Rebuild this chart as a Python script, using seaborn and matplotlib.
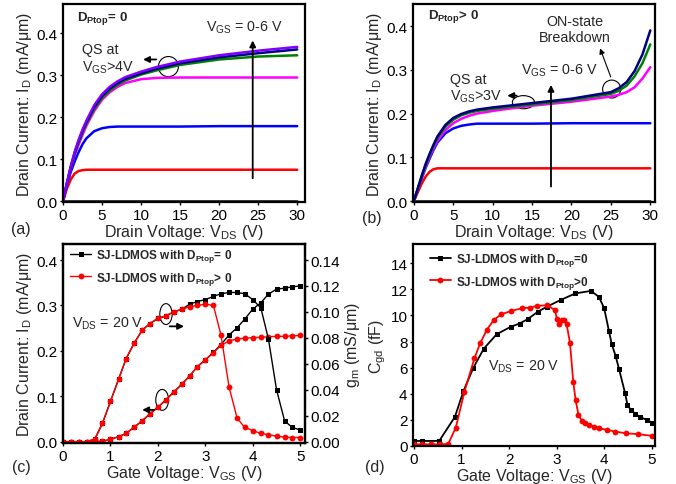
"""
plot.py - SJ-LDMOS output / transfer / Cgd curves (4 panels)
"""

import pandas as pd
import matplotlib
matplotlib.use("Agg")
import matplotlib.pyplot as plt
from matplotlib.patches import Ellipse
from matplotlib.ticker import StrMethodFormatter
import seaborn as sns

# ---------------------------------------------------------------------------
# Data
# ---------------------------------------------------------------------------

VGS_STEPS = [0, 1, 2, 3, 4, 5, 6]
VGS_COLORS = {0: "black", 1: "#ff0000", 2: "#0000ff", 3: "#ff00ff",
              4: "#008000", 5: "#000080", 6: "#8000ff"}

# (a) D_Ptop = 0
VDS_A = [0, 0.5, 1, 1.5, 2, 2.5, 3, 4, 5, 6, 7, 8, 10, 12, 15, 20, 25, 30]
ID_A_VGS0 = [0] * 18
ID_A_VGS1 = [0, 0.030, 0.052, 0.066, 0.072, 0.074, 0.075, 0.075, 0.075, 0.075,
             0.075, 0.075, 0.075, 0.075, 0.075, 0.075, 0.075, 0.075]
ID_A_VGS2 = [0, 0.038, 0.070, 0.095, 0.117, 0.136, 0.150, 0.167, 0.174, 0.177,
             0.178, 0.178, 0.178, 0.178, 0.178, 0.179, 0.179, 0.179]
ID_A_VGS3 = [0, 0.040, 0.078, 0.110, 0.135, 0.158, 0.180, 0.215, 0.242, 0.260,
             0.273, 0.282, 0.291, 0.294, 0.295, 0.295, 0.295, 0.295]
ID_A_VGS4 = [0, 0.042, 0.080, 0.113, 0.140, 0.164, 0.185, 0.220, 0.246, 0.264,
             0.278, 0.288, 0.302, 0.312, 0.325, 0.338, 0.345, 0.348]
ID_A_VGS5 = [0, 0.043, 0.082, 0.116, 0.144, 0.168, 0.189, 0.225, 0.251, 0.269,
             0.282, 0.292, 0.305, 0.316, 0.329, 0.343, 0.353, 0.362]
ID_A_VGS6 = [0, 0.044, 0.084, 0.118, 0.146, 0.171, 0.192, 0.229, 0.255, 0.273,
             0.286, 0.296, 0.309, 0.320, 0.333, 0.348, 0.359, 0.368]

# (b) D_Ptop > 0
VDS_B = [0, 0.5, 1, 1.5, 2, 2.5, 3, 4, 5, 6, 7, 8, 10, 12, 15, 20, 25,
         26, 27, 28, 29, 30]
ID_B_VGS0 = [0] * 22
ID_B_VGS1 = [0, 0.020, 0.040, 0.056, 0.067, 0.073, 0.075, 0.075, 0.075, 0.075,
             0.075, 0.075, 0.075, 0.075, 0.075, 0.075, 0.075, 0.075, 0.075,
             0.075, 0.075, 0.075]
ID_B_VGS2 = [0, 0.026, 0.052, 0.076, 0.097, 0.117, 0.134, 0.155, 0.166, 0.172,
             0.175, 0.177, 0.177, 0.177, 0.177, 0.178, 0.178, 0.178, 0.178,
             0.178, 0.178, 0.178]
ID_B_VGS3 = [0, 0.027, 0.054, 0.079, 0.101, 0.121, 0.138, 0.162, 0.178, 0.188,
             0.195, 0.200, 0.206, 0.211, 0.218, 0.227, 0.239, 0.243, 0.249,
             0.260, 0.280, 0.306]
ID_B_VGS4 = [0, 0.028, 0.056, 0.082, 0.105, 0.126, 0.144, 0.170, 0.186, 0.196,
             0.202, 0.206, 0.211, 0.215, 0.221, 0.231, 0.245, 0.252, 0.264,
             0.285, 0.315, 0.358]
ID_B_VGS5 = [0, 0.029, 0.058, 0.085, 0.108, 0.129, 0.148, 0.174, 0.190, 0.199,
             0.205, 0.209, 0.214, 0.218, 0.224, 0.234, 0.249, 0.258, 0.272,
             0.297, 0.335, 0.390]

# (c) transfer at V_DS = 20 V: I_D (left axis) and g_m (right axis)
VGS_C = [0, 0.17, 0.33, 0.5, 0.67, 0.83, 1.0, 1.17, 1.33, 1.5, 1.67, 1.83,
         2.0, 2.17, 2.33, 2.5, 2.67, 2.83, 3.0, 3.17, 3.33, 3.5, 3.67, 3.83,
         4.0, 4.17, 4.33, 4.5, 4.67, 4.83, 5.0]
ID_C_ZERO = [0, 0, 0, 0, 0, 0.001, 0.005, 0.011, 0.018, 0.032, 0.046, 0.061,
             0.076, 0.092, 0.109, 0.126, 0.145, 0.165, 0.180, 0.197, 0.214,
             0.235, 0.251, 0.270, 0.292, 0.306, 0.325, 0.336, 0.338, 0.341,
             0.343]
ID_C_POS = [0, 0, 0, 0, 0, 0.001, 0.005, 0.011, 0.018, 0.032, 0.046, 0.061,
            0.076, 0.092, 0.109, 0.126, 0.145, 0.165, 0.180, 0.196, 0.212,
            0.222, 0.226, 0.228, 0.229, 0.230, 0.231, 0.232, 0.232, 0.233,
            0.234]
GM_C_ZERO = [0, 0, 0, 0, 0.002, 0.014, 0.031, 0.048, 0.064, 0.076, 0.086,
             0.091, 0.095, 0.097, 0.100, 0.102, 0.106, 0.108, 0.1095, 0.112,
             0.114, 0.115, 0.115, 0.114, 0.1095, 0.103, 0.079, 0.040, 0.016,
             0.011, 0.009]
GM_C_POS = [0, 0, 0, 0, 0.002, 0.014, 0.031, 0.048, 0.064, 0.076, 0.086,
            0.091, 0.095, 0.097, 0.100, 0.102, 0.104, 0.105, 0.106, 0.105,
            0.082, 0.042, 0.018, 0.011, 0.0085, 0.0063, 0.0053, 0.0042,
            0.0035, 0.0032, 0.0032]

# (d) C_gd at V_DS = 20 V
VGS_D_ZERO = [0.0, 0.16, 0.53, 0.86, 1.04, 1.25, 1.47, 1.74, 2.03, 2.22,
              2.39, 2.6, 2.8, 3.09, 3.39, 3.72, 3.89, 4.0, 4.1, 4.16,
              4.24, 4.31, 4.44, 4.49, 4.56, 4.65, 4.75, 4.9, 5.0]
CGD_D_ZERO = [0.38, 0.38, 0.38, 2.22, 4.2, 6.0, 7.46, 8.56, 9.12, 9.38,
              9.71, 10.27, 10.68, 11.19, 11.68, 11.88, 11.42, 10.55, 8.81, 7.79,
              6.9, 5.93, 4.04, 3.14, 2.76, 2.48, 2.22, 1.99, 1.79]
VGS_D_POS = [0.0, 0.17, 0.36, 0.55, 0.72, 0.88, 1.06, 1.27, 1.39, 1.53,
             1.68, 1.84, 2.05, 2.27, 2.43, 2.59, 2.8, 2.96, 3.01, 3.06,
             3.11, 3.16, 3.21, 3.28, 3.35, 3.4, 3.46, 3.53, 3.6, 3.68,
             3.79, 3.9, 4.05, 4.23, 4.45, 4.72, 5.0]
CGD_D_POS = [0.12, 0.12, 0.12, 0.12, 0.15, 1.41, 4.14, 6.7, 7.85, 8.89,
             9.66, 10.09, 10.35, 10.55, 10.6, 10.73, 10.78, 10.42, 9.71, 9.33,
             9.63, 9.63, 9.33, 7.92, 4.9, 3.5, 2.38, 1.92, 1.74, 1.61,
             1.48, 1.36, 1.23, 1.1, 0.97, 0.9, 0.77]

LABEL_ZERO = r"SJ-LDMOS with $\mathbf{D}_{\mathbf{Ptop}}$= 0"
LABEL_POS = r"SJ-LDMOS with $\mathbf{D}_{\mathbf{Ptop}}$> 0"
LABEL_ZERO_D = r"SJ-LDMOS with $\mathbf{D}_{\mathbf{Ptop}}$=0"
LABEL_POS_D = r"SJ-LDMOS with $\mathbf{D}_{\mathbf{Ptop}}$>0"

# ---------------------------------------------------------------------------
# Style
# ---------------------------------------------------------------------------

sns.set_theme(style="ticks")
plt.rcParams["font.family"] = ["Liberation Sans", "DejaVu Sans"]
plt.rcParams["mathtext.fontset"] = "custom"
plt.rcParams["mathtext.rm"] = "Liberation Sans"
plt.rcParams["mathtext.it"] = "Liberation Sans:italic"
plt.rcParams["mathtext.bf"] = "Liberation Sans:bold"

FS_TICK = 11
FS_LABEL = 11.5
FS_ANN = 10.3
FS_LEG = 8.5
ARROW = dict(arrowstyle="-|>", color="black", lw=1.3, mutation_scale=9)


def style_axes(ax, right=False):
    for sp in ax.spines.values():
        sp.set_visible(True)
        sp.set_linewidth(1.6)
        sp.set_color("black")
    ax.tick_params(direction="out", length=2.5, width=1, labelsize=FS_TICK,
                   colors="black", pad=1.5)
    if right:
        ax.tick_params(axis="y", right=True, labelright=True)


def curves_frame(vds, curves):
    frames = [pd.DataFrame({"Vds": vds, "Id": vals, "Vgs": g})
              for g, vals in curves]
    return pd.concat(frames, ignore_index=True)


fig = plt.figure(figsize=(6.76, 4.85), dpi=100)
ax_a = fig.add_axes([0.0932, 0.5814, 0.358, 0.408])
ax_b = fig.add_axes([0.611, 0.5814, 0.358, 0.408])
ax_c = fig.add_axes([0.0932, 0.0845, 0.358, 0.410])
ax_d = fig.add_axes([0.611, 0.078, 0.358, 0.4165])

# ---- (a) ------------------------------------------------------------------
df_a = curves_frame(VDS_A, zip(VGS_STEPS, [ID_A_VGS0, ID_A_VGS1, ID_A_VGS2,
                                           ID_A_VGS3, ID_A_VGS4, ID_A_VGS5,
                                           ID_A_VGS6]))
sns.lineplot(data=df_a, x="Vds", y="Id", hue="Vgs", palette=VGS_COLORS,
             hue_order=VGS_STEPS, lw=1.8, legend=False, sort=False, ax=ax_a)
ax_a.set_xlim(0, 31)
ax_a.set_ylim(-0.002, 0.47)
ax_a.set_xticks([0, 5, 10, 15, 20, 25, 30])
ax_a.set_yticks([0, 0.1, 0.2, 0.3, 0.4])
ax_a.yaxis.set_major_formatter(StrMethodFormatter("{x:.1f}"))
ax_a.set_xlabel(r"Drain Voltage: V$_{\mathrm{DS}}$ (V)", fontsize=FS_LABEL, labelpad=0)
ax_a.set_ylabel(r"Drain Current: I$_{\mathrm{D}}$ (mA/μm)", fontsize=FS_LABEL, labelpad=2)
style_axes(ax_a)
ax_a.text(0.057, 0.934, r"$\mathbf{D}_{\mathbf{Ptop}}$= 0", transform=ax_a.transAxes,
          fontsize=9.5, fontweight="bold", va="center")
ax_a.text(0.748, 0.884, r"V$_{\mathrm{GS}}$ = 0-6 V", transform=ax_a.transAxes,
          fontsize=FS_ANN, ha="center", va="center")
ax_a.annotate("", xy=(24.3, 0.39), xytext=(24.3, 0.048), arrowprops=ARROW)
ax_a.text(0.078, 0.725, "QS at\n" + r"V$_{\mathrm{GS}}$>4V", transform=ax_a.transAxes,
          fontsize=FS_ANN, va="center", linespacing=1.15)
ax_a.add_patch(Ellipse((13.5, 0.321), 2.56, 0.048, fill=False, lw=0.8, color="black"))
ax_a.annotate("", xy=(9.9, 0.338), xytext=(12.3, 0.338), arrowprops=ARROW)

# ---- (b) ------------------------------------------------------------------
df_b = curves_frame(VDS_B, zip(VGS_STEPS[:6], [ID_B_VGS0, ID_B_VGS1, ID_B_VGS2,
                                               ID_B_VGS3, ID_B_VGS4, ID_B_VGS5]))
sns.lineplot(data=df_b, x="Vds", y="Id", hue="Vgs", palette=VGS_COLORS,
             hue_order=VGS_STEPS[:6], lw=1.8, legend=False, sort=False, ax=ax_b)
ax_b.set_xlim(-0.1, 30.6)
ax_b.set_ylim(-0.002, 0.45)
ax_b.set_xticks([0, 5, 10, 15, 20, 25, 30])
ax_b.set_yticks([0, 0.1, 0.2, 0.3, 0.4])
ax_b.yaxis.set_major_formatter(StrMethodFormatter("{x:.1f}"))
ax_b.set_xlabel(r"Drain Voltage: V$_{\mathrm{DS}}$ (V)", fontsize=FS_LABEL, labelpad=0)
ax_b.set_ylabel(r"Drain Current: I$_{\mathrm{D}}$ (mA/μm)", fontsize=FS_LABEL, labelpad=2)
style_axes(ax_b)
ax_b.text(0.062, 0.941, r"$\mathbf{D}_{\mathbf{Ptop}}$> 0", transform=ax_b.transAxes,
          fontsize=9.5, fontweight="bold", va="center")
ax_b.text(0.67, 0.873, "ON-state\nBreakdown", transform=ax_b.transAxes,
          fontsize=FS_ANN, ha="center", va="center", linespacing=1.2)
ax_b.text(0.603, 0.667, r"V$_{\mathrm{GS}}$ = 0-6 V", transform=ax_b.transAxes,
          fontsize=FS_ANN, ha="center", va="center")
ax_b.annotate("", xy=(17.4, 0.272), xytext=(17.4, 0.027), arrowprops=ARROW)
ax_b.text(0.153, 0.575, "QS at\n" + r"V$_{\mathrm{GS}}$>3V", transform=ax_b.transAxes,
          fontsize=FS_ANN, va="center", linespacing=1.15)
ax_b.add_patch(Ellipse((13.9, 0.226), 2.8, 0.03, fill=False, lw=0.8, color="black"))
ax_b.annotate("", xy=(11.5, 0.241), xytext=(13.4, 0.241), arrowprops=ARROW)
ax_b.add_patch(Ellipse((25.1, 0.256), 2.3, 0.041, fill=False, lw=0.8, color="black"))
ax_b.annotate("", xy=(23.5, 0.355), xytext=(25.1, 0.278),
              arrowprops=dict(arrowstyle="-|>", color="black", lw=0.8, mutation_scale=8))

# ---- (c) ------------------------------------------------------------------
ax_c2 = ax_c.twinx()
mk_zero = dict(marker="s", markersize=3.6, markeredgecolor="black", markeredgewidth=0)
mk_pos = dict(marker="o", markersize=4.2, markeredgecolor="#ff0000", markeredgewidth=0)
sns.lineplot(x=VGS_C, y=ID_C_ZERO, color="black", lw=1, sort=False, ax=ax_c, **mk_zero)
sns.lineplot(x=VGS_C, y=ID_C_POS, color="#ff0000", lw=1, sort=False, ax=ax_c, **mk_pos)
sns.lineplot(x=VGS_C, y=GM_C_ZERO, color="black", lw=1, sort=False, ax=ax_c2,
             label=LABEL_ZERO, **mk_zero)
sns.lineplot(x=VGS_C, y=GM_C_POS, color="#ff0000", lw=1, sort=False, ax=ax_c2,
             label=LABEL_POS, **mk_pos)
ax_c.set_xlim(0, 5.1)
ax_c.set_ylim(-0.003, 0.435)
ax_c2.set_ylim(-0.003 * 0.35, 0.435 * 0.35)
ax_c.set_xticks([0, 1, 2, 3, 4, 5])
ax_c.set_yticks([0, 0.1, 0.2, 0.3, 0.4])
ax_c2.set_yticks([0, 0.02, 0.04, 0.06, 0.08, 0.10, 0.12, 0.14])
ax_c.yaxis.set_major_formatter(StrMethodFormatter("{x:.1f}"))
ax_c2.yaxis.set_major_formatter(StrMethodFormatter("{x:.2f}"))
ax_c.set_xlabel(r"Gate Voltage: V$_{\mathrm{GS}}$ (V)", fontsize=FS_LABEL, labelpad=0)
ax_c.set_ylabel(r"Drain Current: I$_{\mathrm{D}}$ (mA/μm)", fontsize=FS_LABEL, labelpad=2)
ax_c2.set_ylabel(r"g$_{\mathrm{m}}$ (mS/μm)", fontsize=FS_LABEL, labelpad=2)
style_axes(ax_c)
style_axes(ax_c2, right=True)
ax_c2.legend(loc="upper left", bbox_to_anchor=(0.0, 1.02), frameon=False,
             prop=dict(size=FS_LEG, weight="bold"), handlelength=1.8,
             handletextpad=0.4, labelspacing=0.45, borderaxespad=0.2)
ax_c.text(0.036, 0.606, r"V$_{\mathrm{DS}}$ = 20 V", transform=ax_c.transAxes,
          fontsize=FS_ANN, va="center")
ax_c.add_patch(Ellipse((2.17, 0.281), 0.26, 0.046, fill=False, lw=0.8, color="black"))
ax_c.annotate("", xy=(2.61, 0.254), xytext=(2.19, 0.254), arrowprops=ARROW)
ax_c.add_patch(Ellipse((2.09, 0.092), 0.27, 0.046, fill=False, lw=0.8, color="black"))
ax_c.annotate("", xy=(1.61, 0.070), xytext=(1.98, 0.070), arrowprops=ARROW)

# ---- (d) ------------------------------------------------------------------
sns.lineplot(x=VGS_D_ZERO, y=CGD_D_ZERO, color="black", lw=1.3, sort=False,
             ax=ax_d, label=LABEL_ZERO_D, **mk_zero)
sns.lineplot(x=VGS_D_POS, y=CGD_D_POS, color="#ff0000", lw=1.3, sort=False,
             ax=ax_d, label=LABEL_POS_D, **mk_pos)
ax_d.set_xlim(-0.02, 5.07)
ax_d.set_ylim(-0.02, 15.46)
ax_d.set_xticks([0, 1, 2, 3, 4, 5])
ax_d.set_yticks([0, 2, 4, 6, 8, 10, 12, 14])
ax_d.set_xlabel(r"Gate Voltage: V$_{\mathrm{GS}}$ (V)", fontsize=FS_LABEL, labelpad=0)
ax_d.set_ylabel(r"C$_{\mathrm{gd}}$ (fF)", fontsize=FS_LABEL, labelpad=2)
style_axes(ax_d)
ax_d.legend(loc="upper left", bbox_to_anchor=(0.04, 1.0), frameon=False,
            prop=dict(size=FS_LEG, weight="bold"), handlelength=1.8,
            handletextpad=0.4, labelspacing=0.45, borderaxespad=0.2)
ax_d.text(0.31, 0.397, r"V$_{\mathrm{DS}}$ = 20 V", transform=ax_d.transAxes,
          fontsize=FS_ANN, va="center")

# ---- panel tags -----------------------------------------------------------
for tag, (px, py) in {"(a)": (21, 230), "(b)": (372, 219),
                      "(c)": (21, 468), "(d)": (375, 468)}.items():
    fig.text(px / 676, 1 - py / 485, tag, fontsize=FS_LABEL, ha="center", va="center")

fig.savefig("out.png", dpi=100)
plt.close(fig)
